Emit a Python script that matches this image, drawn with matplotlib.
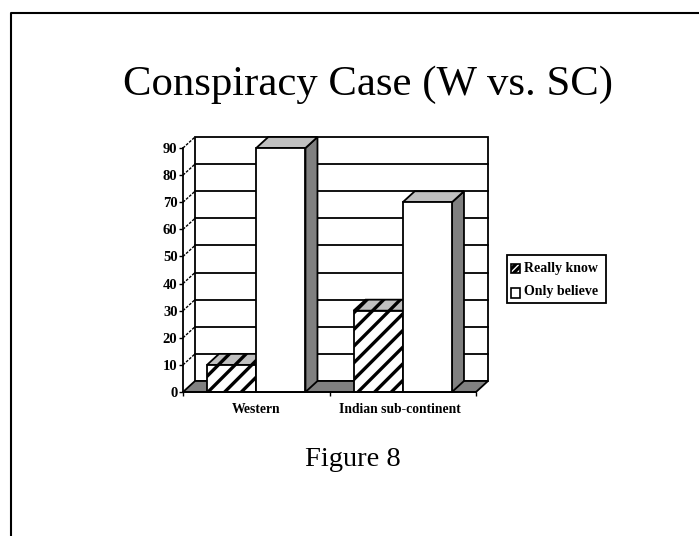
import matplotlib
matplotlib.use('Agg')
import matplotlib.pyplot as plt
from matplotlib.patches import Polygon, Rectangle

plt.rcParams['hatch.linewidth'] = 2.4
plt.rcParams['hatch.color'] = 'black'

title = 'Conspiracy Case (W vs. SC)'
caption = 'Figure 8'
categories = ['Western', 'Indian sub-continent']
series_names = ['Really know', 'Only believe']
really_know = [10, 30]
only_believe = [90, 70]
y_ticks = [0, 10, 20, 30, 40, 50, 60, 70, 80, 90]

W, H = 699, 536
# depth of the fake 3d box, in data units
DX = 12 / 146.5
DY = 11 / (244 / 90)
BAR_W = 0.336


def box_3d(ax, x, value, hatch, zorder):
    # front, top and side faces of a bar
    ax.add_patch(Polygon([(x + BAR_W, 0), (x + BAR_W + DX, DY), (x + BAR_W + DX, value + DY), (x + BAR_W, value)],
                         facecolor='#808080', edgecolor='black', lw=1.3, zorder=zorder, clip_on=False))
    ax.add_patch(Polygon([(x, value), (x + DX, value + DY), (x + BAR_W + DX, value + DY), (x + BAR_W, value)],
                         facecolor='#c0c0c0', edgecolor='black', lw=1.3, hatch=hatch, zorder=zorder, clip_on=False))
    ax.add_patch(Rectangle((x, 0), BAR_W, value, facecolor='white', edgecolor='black', lw=1.3,
                           hatch=hatch, zorder=zorder, clip_on=False))


fig = plt.figure(figsize=(W / 100, H / 100), dpi=100, facecolor='white')

# slide frame, open on the right and at the bottom
bg = fig.add_axes([0, 0, 1, 1])
bg.set_xlim(0, W)
bg.set_ylim(H, 0)
bg.axis('off')
bg.plot([10.5, 10.5, W], [H, 13, 13], color='black', lw=1.5)
bg.text(368, 85, title, family='Liberation Serif', fontsize=30.8, ha='center', va='center')
bg.text(353, 459, caption, family='Liberation Serif', fontsize=20.5, ha='center', va='center')

ax = fig.add_axes([183 / W, 1 - 392 / H, 293 / W, 244 / H])
ax.set_xlim(0, 2)
ax.set_ylim(0, 90)
ax.patch.set_visible(False)
for s in ['top', 'right']:
    ax.spines[s].set_visible(False)
for s in ['left', 'bottom']:
    ax.spines[s].set_linewidth(1.3)
    ax.spines[s].set_zorder(6)

# back wall, floor, gridlines
ax.add_patch(Rectangle((DX, DY), 2, 90, facecolor='white', edgecolor='black', lw=1.3, zorder=1, clip_on=False))
ax.add_patch(Polygon([(0, 0), (DX, DY), (2 + DX, DY), (2, 0)], facecolor='#808080', edgecolor='black',
                     lw=1.3, zorder=1.5, clip_on=False))
for v in y_ticks[1:-1]:
    ax.plot([DX, 2 + DX], [v + DY, v + DY], color='black', lw=1.3, zorder=2, clip_on=False)
for v in y_ticks[1:]:
    ax.plot([0, DX], [v, v + DY], color='black', lw=1, ls=(0, (2, 1)), zorder=2, clip_on=False)

for i in range(len(categories)):
    x0 = i + 0.5 - BAR_W
    box_3d(ax, x0, really_know[i], '//', 3)
    box_3d(ax, x0 + BAR_W, only_believe[i], None, 4)

ax.set_yticks(y_ticks)
ax.set_xticks([0, 1, 2])
ax.set_xticklabels([])
ax.set_xticks([0.5, 1.48], minor=True)
ax.set_xticklabels(categories, minor=True, family='Liberation Serif', weight='bold', fontsize=9.8)
ax.tick_params(axis='x', which='minor', length=0, pad=8)
ax.tick_params(axis='x', which='major', length=3, width=1, direction='out')
ax.tick_params(axis='y', length=3, width=1, pad=1)
for t in ax.get_yticklabels():
    t.set_family('Liberation Serif')
    t.set_weight('bold')
    t.set_fontsize(10.5)

# legend drawn by hand to keep the small square keys
bg.add_patch(Rectangle((506.5, 254.5), 99, 48, facecolor='white', edgecolor='black', lw=1.3))
bg.add_patch(Rectangle((511, 264), 9, 9, facecolor='white', edgecolor='black', lw=1.2, hatch='/////'))
bg.add_patch(Rectangle((511, 287.5), 9, 10, facecolor='white', edgecolor='black', lw=1.2))
bg.text(523.5, 268.5, series_names[0], family='Liberation Serif', weight='bold', fontsize=10, va='center')
bg.text(523.5, 292, series_names[1], family='Liberation Serif', weight='bold', fontsize=10, va='center')

fig.savefig('out.png', dpi=100)
